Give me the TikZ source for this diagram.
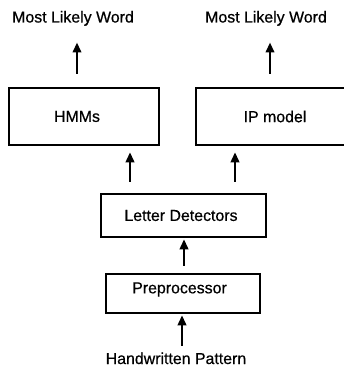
\documentclass[tikz,border=0pt]{standalone}
\usepackage{fontspec}
\setmainfont{Liberation Sans}
\newfontfamily\capfont[FakeBold=0.6]{Liberation Sans}
\usetikzlibrary{arrows.meta}
\tikzset{
  blockbox/.style={draw, line width=2.6pt, inner sep=0pt},
  caption/.style={inner sep=0pt, font=\capfont\fontsize{15.9}{18}\selectfont},
  arr/.style={line width=2.2pt, -{Triangle[length=10pt,width=8.5pt]}},
}
\begin{document}
\begin{tikzpicture}[x=1pt,y=-1pt]
\useasboundingbox (0,0) rectangle (344,366);

% model boxes
\node[blockbox, minimum width=150pt, minimum height=57pt,
      label={[caption, xshift=-7pt]center:HMMs}] (hmm) at (84,116.5) {};
\node[blockbox, minimum width=152pt, minimum height=57pt,
      label={[caption, xshift=3pt]center:IP model}] (ip) at (272,116.5) {};

% front end
\node[blockbox, minimum width=165pt, minimum height=43pt,
      label={[caption, xshift=-2.5pt]center:Letter Detectors}] (ld) at (183.5,215.5) {};
\node[blockbox, minimum width=154pt, minimum height=39pt,
      label={[caption, xshift=-3.5pt, yshift=4pt]center:Preprocessor}] (pre) at (183,293.5) {};

% outputs and input
\node[caption, anchor=base] (w1) at (73,22.5) {Most Likely Word};
\node[caption, anchor=base] (w2) at (266,22.5) {Most Likely Word};
\node[caption, anchor=base] (hw) at (176,364) {Handwritten Pattern};

% connectors
\draw[arr, shorten <=13pt, shorten >=16.5pt] (hmm.north -| 77,0) -- (w1.south -| 77,0);
\draw[arr, shorten <=13pt, shorten >=16.5pt] (ip.north -| 270,0) -- (w2.south -| 270,0);
\draw[arr, shorten <=11pt, shorten >=6pt] (ld.north -| 130,0) -- (hmm.south -| 130,0);
\draw[arr, shorten <=11pt, shorten >=6pt] (ld.north -| 235,0) -- (ip.south -| 235,0);
\draw[arr, shorten <=7pt, shorten >=1pt] (pre.north -| 184,0) -- (ld.south -| 184,0);
\draw[arr, shorten <=6.5pt, shorten >=1pt] (hw.north -| 182,0) -- (pre.south -| 182,0);
\end{tikzpicture}
\end{document}
